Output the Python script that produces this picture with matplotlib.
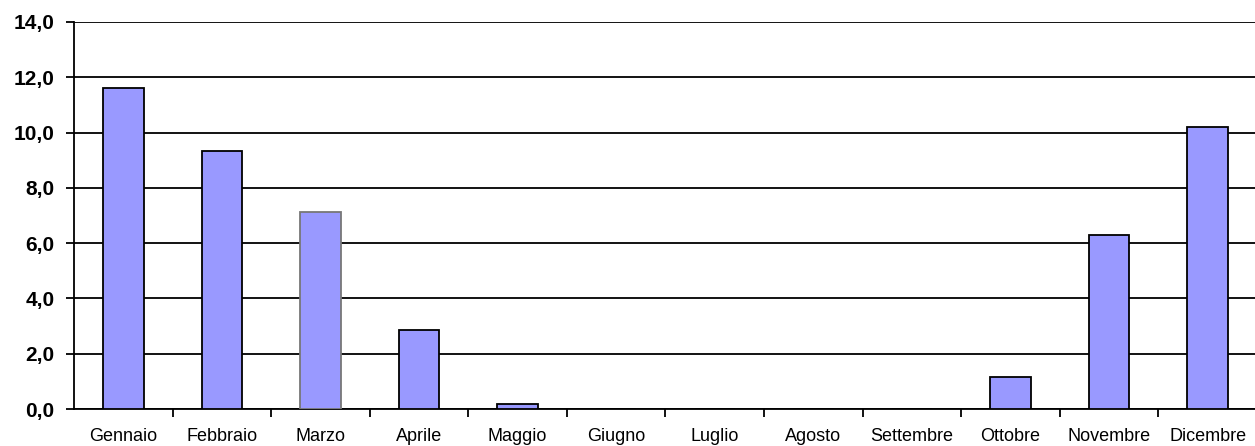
import numpy as np
import matplotlib.pyplot as plt

plt.rcParams['font.family'] = ['Liberation Sans', 'DejaVu Sans']

mesi = ['Gennaio', 'Febbraio', 'Marzo', 'Aprile', 'Maggio', 'Giugno',
        'Luglio', 'Agosto', 'Settembre', 'Ottobre', 'Novembre', 'Dicembre']
valori = [11.6, 9.35, 7.13, 2.86, 0.18, 0.0, 0.0, 0.0, 0.0, 1.16, 6.3, 10.2]
yticks = [0, 2, 4, 6, 8, 10, 12, 14]

fig = plt.figure(figsize=(12.55, 4.46), dpi=100)
ax = fig.add_axes([74 / 1255, 37 / 446, 1183 / 1255, 387 / 446])

x = np.arange(len(mesi))
edges = ['black'] * len(mesi)
edges[2] = '#777777'
bars = ax.bar(x, valori, width=0.41, color='#9999ff', edgecolor=edges,
              linewidth=1.3, zorder=3)

ax.set_xlim(-0.5, len(mesi) - 0.5)
ax.set_ylim(0, 14)
ax.set_yticks(yticks)
ax.set_yticklabels([f'{v:.1f}'.replace('.', ',') for v in yticks],
                   fontsize=15, fontweight='bold')
ax.yaxis.grid(True, color='black', linewidth=1.3, zorder=0)
ax.tick_params(axis='y', length=6, width=1.3, pad=8)

ax.set_xticks(x)
ax.set_xticklabels(mesi, fontsize=13)
ax.set_xticks(np.arange(0.5, len(mesi) - 0.5, 1), minor=True)
ax.tick_params(axis='x', which='major', length=0, pad=14)
ax.tick_params(axis='x', which='minor', length=6, width=1.3)

for s in ['top', 'right']:
    ax.spines[s].set_visible(False)
ax.spines['left'].set_linewidth(1.3)
ax.spines['bottom'].set_linewidth(1.3)

fig.savefig('out.png', dpi=100)
